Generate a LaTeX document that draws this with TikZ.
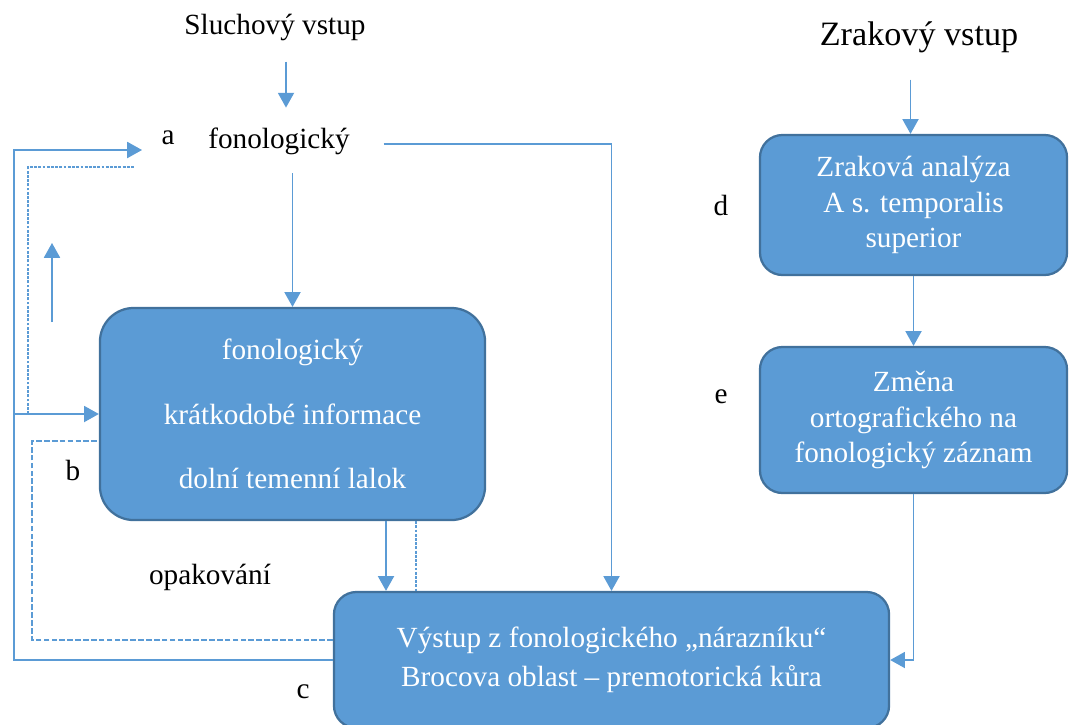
\documentclass[tikz,border=0pt]{standalone}
\usepackage{fontspec}
\setmainfont{Liberation Serif}
\usetikzlibrary{arrows.meta,calc}
\definecolor{boxblue}{HTML}{5B9BD5}
\definecolor{boxedge}{HTML}{41719C}
\tikzstyle{box}=[rectangle,rounded corners=16pt,fill=boxblue,draw=boxedge,line width=1.6pt,text=white,align=center,inner sep=0pt]
\tikzstyle{plain}=[inner sep=0pt,text=black]
\tikzstyle{edge} = [draw,boxblue,line width=0.9pt,-{Triangle[length=10.5pt,width=11.5pt]}]
\tikzstyle{dashededge} = [draw,boxblue,line width=0.9pt,dash pattern=on 4pt off 1.6pt]
\tikzstyle{dottededge} = [draw,boxblue,line width=0.9pt,dash pattern=on 2pt off 1pt]

\begin{document}
\begin{tikzpicture}[x=0.025cm,y=-0.025cm,font=\fontsize{20.8}{25}\selectfont]

    \useasboundingbox (0,0) rectangle (1069,724);

    % texts without frame
    \node[plain] (slu) at (275,27) {Sluchový vstup};
    \node[plain] (fon) at (279,141) {fonologický};
    \node[plain,font=\fontsize{24.3}{28}\selectfont] (zrak) at (919,37) {Zrakový vstup};
    \node[plain] (opak) at (210,577) {opakování};

    \foreach \pos/ \name in {{(168,138)/a},{(73,470)/b}, {(303,692)/c}, {(721,205)/d}, {(721,397)/e}}
        \node[plain] (l\name) at \pos {\name};

    % boxes
    \node[box,rounded corners=24pt,minimum width=9.625cm,minimum height=5.3cm] (B) at (292.5,414)
        {fonologický\\[21pt]krátkodobé informace\\[21pt]dolní temenní lalok};
    \node[box,minimum width=7.675cm,minimum height=3.5cm] (D) at (913.5,205)
        {Zraková analýza\\A s. temporalis\\superior};
    \node[box,minimum width=7.675cm,minimum height=3.65cm] (E) at (913.5,420)
        {Změna\\ortografického na\\fonologický záznam};
    \node[box,minimum width=13.875cm,minimum height=3.4cm] (C) at (611.5,660)
        {Výstup z fonologického „nárazníku“\\[3pt]Brocova oblast – premotorická kůra};

    % inputs
    \draw[edge,shorten <=15pt,shorten >=14pt] ($(slu.south)+(11,0)$) -- ($(fon.north)+(7,0)$);
    \draw[edge,shorten <=13pt] (fon.south -| B.north) -- (B.north);
    \draw[edge,shorten <=24pt] ($(fon.east)+(0,3)$) -| (C.north);
    \draw[edge,shorten <=19pt] ($(zrak.south -| D.north)+(-3,0)$) -- ($(D.north)+(-3,0)$);

    % right column
    \draw[edge] (D.south) -- (D.south |- E.north);
    \draw[edge] (E.south) |- (C.east);

    % B to C
    \path (B.south) ++(93.5,0) coordinate (bc1) ++(30,0) coordinate (bc2);
    \draw[edge] (bc1) -- (bc1 |- C.north);
    \draw[dottededge] (bc2) -- (bc2 |- C.north);

    % loops back (opakovani)
    \coordinate (lp) at (14,660);
    \coordinate (ain) at (142,150);
    \draw[edge] (C.west) -- (lp) |- (ain);
    \draw[edge] (lp |- B.west) -- (B.west);

    \coordinate (dl) at (32,640);
    \draw[dashededge] (dl -| C.west) -- (dl) |- ($(B.west)+(0,27)$);

    \coordinate (dt) at (28,167);
    \coordinate (aout) at (135,167);
    \draw[dottededge] (dt |- B.west) -- (dt) -- (aout);

    \coordinate (up1) at (52,322);
    \coordinate (up2) at (52,243);
    \draw[edge] (up1) -- (up2);

\end{tikzpicture}
\end{document}
